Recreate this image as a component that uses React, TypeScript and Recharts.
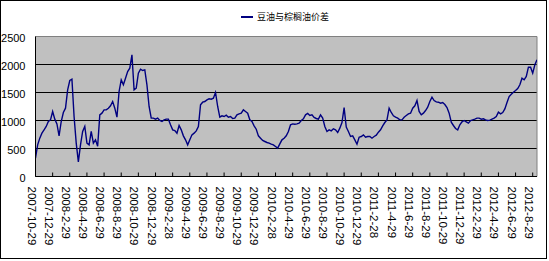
import React from 'react';
import { LineChart, Line, XAxis, YAxis, CartesianGrid, ReferenceArea, Legend } from 'recharts';

const seriesName = '豆油与棕榈油价差';

const dateLabels = [
  '2007-10-29', '2007-12-29', '2008-2-29', '2008-4-29', '2008-6-29', '2008-8-29',
  '2008-10-29', '2008-12-29', '2009-2-28', '2009-4-29', '2009-6-29', '2009-8-29',
  '2009-10-29', '2009-12-29', '2010-2-28', '2010-4-29', '2010-6-29', '2010-8-29',
  '2010-10-29', '2010-12-29', '2011-2-28', '2011-4-29', '2011-6-29', '2011-8-29',
  '2011-10-29', '2011-12-29', '2012-2-29', '2012-4-29', '2012-6-29', '2012-8-29',
];

const spread = [
  327, 565, 685, 774, 833, 893, 982, 1012,
  1160, 1024, 940, 726, 982, 1143, 1220, 1548,
  1714, 1738, 1071, 595, 260, 565, 804, 893,
  595, 565, 804, 595, 655, 540, 1101, 1131,
  1190, 1190, 1220, 1262, 1339, 1220, 1059, 1518,
  1726, 1637, 1756, 1875, 1934, 2173, 1548, 1577,
  1845, 1917, 1893, 1905, 1637, 1250, 1042, 1042,
  1024, 1042, 1000, 982, 1012, 1024, 1024, 923,
  833, 821, 774, 911, 833, 726, 655, 565,
  655, 744, 774, 815, 893, 1280, 1327, 1339,
  1369, 1387, 1381, 1399, 1500, 1250, 1059, 1083,
  1071, 1095, 1059, 1071, 1036, 1042, 1101, 1119,
  1131, 1190, 1161, 1131, 1012, 982, 905, 845,
  726, 684, 643, 625, 607, 595, 577, 565,
  536, 506, 583, 655, 684, 726, 803, 923,
  940, 934, 940, 952, 1000, 1030, 1101, 1125,
  1089, 1101, 1054, 1036, 1024, 1101, 1042, 893,
  804, 833, 815, 851, 833, 786, 863, 964,
  1230, 881, 804, 714, 726, 655, 577, 702,
  714, 744, 702, 714, 714, 684, 714, 738,
  792, 833, 905, 964, 1012, 1220, 1143, 1083,
  1059, 1042, 1012, 1012, 1059, 1089, 1119, 1131,
  1220, 1262, 1357, 1161, 1101, 1131, 1178, 1238,
  1339, 1417, 1357, 1333, 1327, 1309, 1321, 1286,
  1232, 1131, 970, 911, 857, 833, 923, 976,
  1000, 976, 952, 1000, 1012, 1024, 1042, 1042,
  1024, 1030, 1012, 1000, 1006, 1024, 1042, 1071,
  1149, 1119, 1143, 1208, 1321, 1428, 1470, 1506,
  1536, 1571, 1637, 1756, 1726, 1786, 1952, 1952,
  1845, 1994, 2083,
];

const yTicks = [0, 500, 1000, 1500, 2000, 2500];
const gridValues = [500, 1000, 1500, 2000];
const POINTS_PER_LABEL = 8;

const data = spread.map((v, i) => ({ i, v }));
const xTicks = dateLabels.map((_, k) => k * POINTS_PER_LABEL);

const XTick = (props: any) => {
  const { x, y, payload } = props;
  const label = dateLabels[Math.round(payload.value / POINTS_PER_LABEL)];
  const tx = x - 4;
  const ty = y + 10;
  return (
    <g>
      <line x1={x} y1={y} x2={x} y2={y - 4} stroke="#000" strokeWidth={1} />
      <text
        transform={`rotate(90, ${tx}, ${ty})`}
        x={tx}
        y={ty}
        textAnchor="start"
        dominantBaseline="central"
        fontSize={11.5}
        fontFamily="Liberation Sans"
        fill="#000"
      >
        {label}
      </text>
    </g>
  );
};

const YTick = (props: any) => {
  const { x, y, payload } = props;
  return (
    <text
      x={x}
      y={y + 1.5}
      textAnchor="end"
      dominantBaseline="central"
      fontSize={11}
      fontFamily="Liberation Sans"
      fill="#000"
    >
      {payload.value}
    </text>
  );
};

const LegendContent = (props: any) => {
  const item = props.payload && props.payload[0];
  return (
    <div style={{ display: 'flex', alignItems: 'center', fontFamily: '"Noto Sans CJK SC"', fontSize: 9, color: '#000', lineHeight: '11px', whiteSpace: 'nowrap' }}>
      <svg width={12} height={4} style={{ display: 'block' }}>
        <line x1={0} y1={2} x2={12} y2={2} stroke={item ? item.color : '#000080'} strokeWidth={2} />
      </svg>
      <span style={{ marginLeft: 4 }}>{item ? item.value : seriesName}</span>
    </div>
  );
};

export default function App() {
  return (
    <div style={{ position: 'absolute', left: 0, top: 0, width: 549, height: 261, background: '#fff' }}>
      <LineChart
        width={549}
        height={261}
        data={data}
        margin={{ top: 36.5, right: 12, bottom: 0, left: 0 }}
      >
        <CartesianGrid
          fill="#c0c0c0"
          fillOpacity={1}
          stroke="#000"
          vertical={false}
          horizontalValues={gridValues}
        />
        <ReferenceArea y1={0} y2={2500} fill="none" stroke="#808080" strokeWidth={1} />
        <XAxis
          dataKey="i"
          type="number"
          domain={[0, spread.length - 1]}
          ticks={xTicks}
          interval={0}
          height={84.5}
          tickSize={0}
          tickMargin={0}
          tickLine={false}
          axisLine={{ stroke: '#000' }}
          tick={<XTick />}
          allowDataOverflow
        />
        <YAxis
          type="number"
          domain={[0, 2500]}
          ticks={yTicks}
          interval={0}
          width={35.5}
          tickSize={0}
          tickMargin={10}
          tickLine={false}
          axisLine={{ stroke: '#000' }}
          tick={<YTick />}
        />
        <Line
          type="linear"
          dataKey="v"
          name={seriesName}
          stroke="#000080"
          strokeWidth={1.4}
          dot={false}
          isAnimationActive={false}
        />
        <Legend
          layout="horizontal"
          verticalAlign="middle"
          align="center"
          content={<LegendContent />}
          wrapperStyle={{ position: 'absolute', left: 241, top: 11, width: 'auto', height: 'auto' }}
        />
      </LineChart>
      <div style={{ position: 'absolute', left: 0, top: 0, width: 545, height: 257, border: '1px solid #000', pointerEvents: 'none' }} />
    </div>
  );
}
